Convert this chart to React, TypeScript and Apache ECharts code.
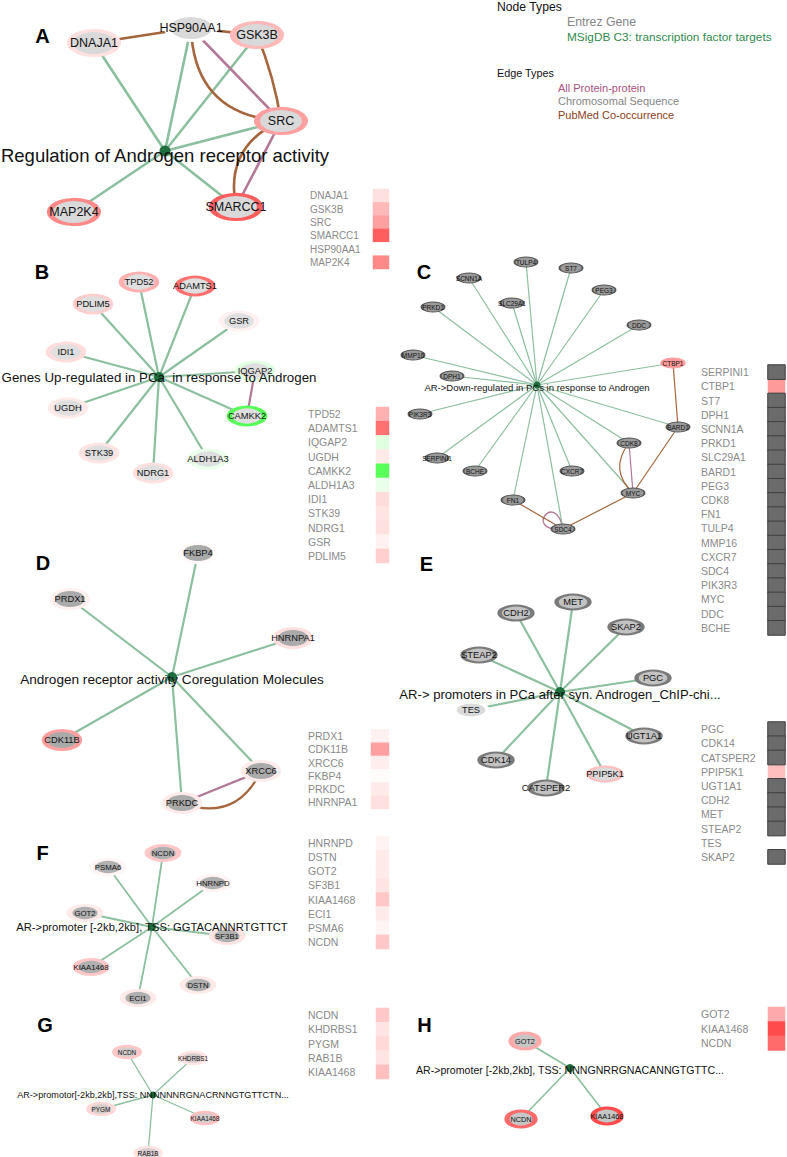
import React, { useEffect, useRef } from 'react';
import * as echarts from 'echarts';

const W = 787;
const H = 1157;
const FONT = '"Liberation Sans", Arial, Helvetica, sans-serif';

// ---------------- heatmap gene order and scores (red = up, green = down, null = no data) ----------------
const genesA = ['DNAJA1', 'GSK3B', 'SRC', 'SMARCC1', 'HSP90AA1', 'MAP2K4'];
const valuesA = [0.15, 0.34, 0.46, 0.78, 0, 0.57];

const genesB = ['TPD52', 'ADAMTS1', 'IQGAP2', 'UGDH', 'CAMKK2', 'ALDH1A3', 'IDI1', 'STK39', 'NDRG1', 'GSR', 'PDLIM5'];
const valuesB = [0.38, 0.69, -0.15, 0.1, -0.8, -0.1, 0.17, 0.13, 0.15, 0.07, 0.23];

const genesC = ['SERPINI1', 'CTBP1', 'ST7', 'DPH1', 'SCNN1A', 'PRKD1', 'SLC29A1', 'BARD1', 'PEG3', 'CDK8', 'FN1', 'TULP4', 'MMP16', 'CXCR7', 'SDC4', 'PIK3R3', 'MYC', 'DDC', 'BCHE'];
const valuesC = [null, 0.49, null, null, null, null, null, null, null, null, null, null, null, null, null, null, null, null, null];

const genesD = ['PRDX1', 'CDK11B', 'XRCC6', 'FKBP4', 'PRKDC', 'HNRNPA1'];
const valuesD = [0.07, 0.46, 0.09, 0.02, 0.1, 0.15];

const genesE = ['PGC', 'CDK14', 'CATSPER2', 'PPIP5K1', 'UGT1A1', 'CDH2', 'MET', 'STEAP2', 'TES', 'SKAP2'];
const valuesE = [null, null, null, 0.31, null, null, null, null, 0, null];

const genesF = ['HNRNPD', 'DSTN', 'GOT2', 'SF3B1', 'KIAA1468', 'ECI1', 'PSMA6', 'NCDN'];
const valuesF = [0.06, 0.1, 0.1, 0.13, 0.27, 0.1, 0.05, 0.27];

const genesG = ['NCDN', 'KHDRBS1', 'PYGM', 'RAB1B', 'KIAA1468'];
const valuesG = [0.27, 0.13, 0.19, 0.13, 0.31];

const genesH = ['GOT2', 'KIAA1468', 'NCDN'];
const valuesH = [0.41, 0.87, 0.72];

// ---------------- gene-set (center) terms ----------------
const termA = 'Regulation of Androgen receptor activity';
const termB = 'Genes Up-regulated in PCa  in response to Androgen';
const termC = 'AR->Down-regulated in PCs in response to Androgen';
const termD = 'Androgen receptor activity Coregulation Molecules';
const termE = 'AR-> promoters in PCa after syn. Androgen_ChIP-chi...';
const termF = 'AR->promoter [-2kb,2kb], TSS: GGTACANNRTGTTCT';
const termG = 'AR->promotor[-2kb,2kb],TSS: NNNNNNRGNACRNNGTGTTCTN...';
const termH = 'AR->promoter [-2kb,2kb], TSS: NNNGNRRGNACANNGTGTTC...';

// ---------------- gene-gene edges [source, target, type, curveness] ----------------
const edgesA = [
  ['DNAJA1', 'HSP90AA1', 'pub', 0],
  ['HSP90AA1', 'GSK3B', 'pub', 0],
  ['HSP90AA1', 'SRC', 'pub', -0.45],
  ['HSP90AA1', 'SRC', 'ppi', 0],
  ['GSK3B', 'SRC', 'pub', 0.06],
  ['SRC', 'SMARCC1', 'pub', -0.4],
  ['SRC', 'SMARCC1', 'ppi', 0],
];
const edgesB = [['IQGAP2', 'CAMKK2', 'ppi', 0]];
const edgesC = [
  ['CTBP1', 'BARD1', 'pub', 0],
  ['BARD1', 'MYC', 'pub', 0],
  ['CDK8', 'MYC', 'pub', -0.45],
  ['CDK8', 'MYC', 'ppi', 0],
  ['MYC', 'SDC4', 'pub', 0],
  ['FN1', 'SDC4', 'pub', 0],
];
const loopsC = ['SDC4'];
const edgesD = [
  ['XRCC6', 'PRKDC', 'ppi', 0],
  ['XRCC6', 'PRKDC', 'pub', 0.45],
];
const edgesE: any[] = [];
const edgesF: any[] = [];
const edgesG: any[] = [];
const edgesH: any[] = [];

// ---------------- network layouts (node positions, page pixels) ----------------
const layoutA: Record<string, number[]> = {
  [termA]: [165, 151], DNAJA1: [94, 43], HSP90AA1: [191, 28], GSK3B: [257, 35],
  SRC: [281, 121], SMARCC1: [236, 207], MAP2K4: [74, 212],
};
const layoutB: Record<string, number[]> = {
  [termB]: [159, 377], TPD52: [139, 282], ADAMTS1: [195, 286], PDLIM5: [93, 304], GSR: [239, 321],
  IDI1: [66, 352], IQGAP2: [255, 371], CAMKK2: [247, 416], UGDH: [68, 408], STK39: [99, 453],
  ALDH1A3: [208, 459], NDRG1: [153, 473],
};
const layoutC: Record<string, number[]> = {
  [termC]: [537, 385], SCNN1A: [469, 278], TULP4: [526, 262], ST7: [571, 268], PEG3: [604, 290],
  SLC29A1: [512, 303], PRKD1: [433, 307], DDC: [639, 325], MMP16: [413, 355], CTBP1: [673, 363],
  DPH1: [452, 376], PIK3R3: [420, 414], BARD1: [678, 427], CDK8: [629, 443], SERPINI1: [437, 458],
  BCHE: [475, 471], CXCR7: [572, 471], FN1: [513, 500], MYC: [633, 493], SDC4: [563, 529],
};
const layoutD: Record<string, number[]> = {
  [termD]: [172, 677], FKBP4: [198, 553], PRDX1: [70, 599], HNRNPA1: [293, 638],
  CDK11B: [62, 740], XRCC6: [261, 771], PRKDC: [182, 803],
};
const layoutE: Record<string, number[]> = {
  [termE]: [560, 692], MET: [573, 602], CDH2: [516, 613], SKAP2: [626, 627], STEAP2: [479, 655],
  PGC: [653, 678], TES: [471, 710], UGT1A1: [644, 736], CDK14: [496, 760], PPIP5K1: [605, 774],
  CATSPER2: [546, 788],
};
const layoutF: Record<string, number[]> = {
  [termF]: [152, 927], NCDN: [163, 853], PSMA6: [108, 867], HNRNPD: [213, 883], GOT2: [85, 913],
  SF3B1: [227, 936], KIAA1468: [91, 967], DSTN: [198, 985], ECI1: [138, 998],
};
const layoutG: Record<string, number[]> = {
  [termG]: [153, 1095], NCDN: [127, 1052], KHDRBS1: [193, 1058], PYGM: [101, 1109],
  KIAA1468: [205, 1118], RAB1B: [148, 1153],
};
const layoutH: Record<string, number[]> = {
  [termH]: [570, 1068], GOT2: [525, 1041], NCDN: [521, 1119], KIAA1468: [607, 1116],
};

// ---------------- colours ----------------
const GREEN_EDGE = '#8bbf9e';
const BROWN_EDGE = '#a5653d';
const PURPLE_EDGE = '#b27896';
const CENTER_GREEN = '#1f6e3d';
const LABEL_GRAY = '#8a8a8a';

function heatColor(v: number) {
  const t = Math.max(-1, Math.min(1, v));
  const end = t >= 0 ? [255, 48, 48] : [48, 255, 48];
  const a = Math.abs(t);
  return 'rgb(' + [0, 1, 2].map((i) => Math.round(255 + (end[i] - 255) * a)).join(',') + ')';
}

type Panel = {
  term: string; genes: string[]; values: (number | null)[]; layout: Record<string, number[]>;
  extra: any[]; loops: string[]; letter: string; letterPos: number[];
  st: any; hm: { left: number; top: number; width: number; height: number; labelX: number; font: number };
};

const panels: Panel[] = [
  { term: termA, genes: genesA, values: valuesA, layout: layoutA, extra: edgesA, loops: [], letter: 'A', letterPos: [42.5, 36],
    st: { size: [48, 25], bw: 4.5, core: '#d9d9d9', label: 12.5, termFont: 18.5, off: [0, 4], cs: 11, ew: 2.6 },
    hm: { left: 373, top: 189, width: 16, height: 80, labelX: 310, font: 10 } },
  { term: termB, genes: genesB, values: valuesB, layout: layoutB, extra: edgesB, loops: [], letter: 'B', letterPos: [42, 271.5],
    st: { size: [35, 18], bw: 4, core: '#dfdfdf', label: 9.3, termFont: 13.3, off: [0, 0], cs: 10, ew: 2.2 },
    hm: { left: 376, top: 407, width: 13, height: 156, labelX: 308, font: 10.5 } },
  { term: termC, genes: genesC, values: valuesC, layout: layoutC, extra: edgesC, loops: loopsC, letter: 'C', letterPos: [424, 272],
    st: { size: [23, 10], bw: 1.5, core: null, naFill: '#9a9a9a', naBorder: '#555555', naBw: 1.3, label: 6.5, termFont: 9.5, off: [0, 2], cs: 7, ew: 1.2 },
    hm: { left: 768, top: 365, width: 17, height: 270, labelX: 701, font: 10.5 } },
  { term: termD, genes: genesD, values: valuesD, layout: layoutD, extra: edgesD, loops: [], letter: 'D', letterPos: [43, 563],
    st: { size: [35, 19], bw: 4, core: '#aaaaaa', label: 9.3, termFont: 13.6, off: [0, 2], cs: 10, ew: 2.2 },
    hm: { left: 371, top: 729.5, width: 18, height: 79.5, labelX: 308, font: 10.5 } },
  { term: termE, genes: genesE, values: valuesE, layout: layoutE, extra: edgesE, loops: [], letter: 'E', letterPos: [426.5, 563.5],
    st: { size: [33, 15], bw: 3, core: '#dadada', naFill: '#c2c2c2', naBorder: '#7a7a7a', naBw: 3, label: 9.3, termFont: 13.1, off: [0, 2], cs: 10, ew: 2.2 },
    hm: { left: 768, top: 722, width: 17, height: 142, labelX: 701, font: 10.5 } },
  { term: termF, genes: genesF, values: valuesF, layout: layoutF, extra: edgesF, loops: [], letter: 'F', letterPos: [42.5, 852.5],
    st: { size: [31, 15], bw: 4, core: '#b0b0b0', label: 7.8, termFont: 11.2, off: [0, 0], cs: 8, ew: 1.8 },
    hm: { left: 376, top: 836, width: 13, height: 113, labelX: 308, font: 10.5 } },
  { term: termG, genes: genesG, values: valuesG, layout: layoutG, extra: edgesG, loops: [], letter: 'G', letterPos: [45, 1025],
    st: { size: [25, 12], bw: 3.5, core: '#d5cccc', label: 6.4, termFont: 9.1, off: [0, 0], cs: 7, ew: 1.3 },
    hm: { left: 376, top: 1008, width: 13, height: 71, labelX: 308, font: 10.5 } },
  { term: termH, genes: genesH, values: valuesH, layout: layoutH, extra: edgesH, loops: [], letter: 'H', letterPos: [424.5, 1025],
    st: { size: [28, 16], bw: 4, core: '#c6c6c6', label: 7.3, termFont: 10.6, off: [0, 2], cs: 8, ew: 1.6 },
    hm: { left: 768, top: 1007, width: 17, height: 43.5, labelX: 701, font: 10.5 } },
];

function graphSeries(p: Panel) {
  const s = p.st;
  const nodes: any[] = [
    {
      name: p.term, value: p.layout[p.term], symbol: 'circle', symbolSize: s.cs,
      itemStyle: { color: CENTER_GREEN, borderWidth: 0 },
      label: { show: true, position: 'inside', offset: s.off, fontSize: s.termFont, color: '#111', fontFamily: FONT },
    },
  ];
  p.genes.forEach((g, i) => {
    const v = p.values[i];
    const na = v == null;
    nodes.push({
      name: g, value: p.layout[g], symbol: 'circle', symbolSize: s.size,
      itemStyle: na
        ? { color: s.naFill, borderColor: s.naBorder, borderWidth: s.naBw }
        : { color: s.core ?? heatColor(v as number), borderColor: heatColor(v as number), borderWidth: s.bw },
      label: { show: true, position: 'inside', fontSize: s.label, color: '#111', fontFamily: FONT },
    });
  });
  const links: any[] = p.genes.map((g) => ({
    source: p.term, target: g, lineStyle: { color: GREEN_EDGE, width: s.ew, curveness: 0, opacity: 1 },
  }));
  p.extra.forEach(([a, b, t, c]) => {
    links.push({ source: a, target: b, lineStyle: { color: t === 'ppi' ? PURPLE_EDGE : BROWN_EDGE, width: s.ew, curveness: c, opacity: 1 } });
  });
  return {
    type: 'graph', layout: 'none', coordinateSystem: 'cartesian2d', xAxisIndex: 0, yAxisIndex: 0,
    silent: true, roam: false, edgeSymbol: ['none', 'none'], data: nodes, links, z: 3,
    emphasis: { disabled: true },
  };
}

function buildOption() {
  const grid: any[] = [{ left: 0, top: 0, width: W, height: H }];
  const xAxis: any[] = [{ type: 'value', gridIndex: 0, min: 0, max: W, show: false }];
  const yAxis: any[] = [{ type: 'value', gridIndex: 0, min: 0, max: H, inverse: true, show: false }];
  const series: any[] = [];
  const heatIdx: number[] = [];
  const naIdx: number[] = [];
  const graphic: any[] = [];

  panels.forEach((p, k) => {
    const gi = k + 1;
    const hm = p.hm;
    grid.push({ left: hm.left, top: hm.top, width: hm.width, height: hm.height });
    xAxis.push({ type: 'category', gridIndex: gi, data: [''], show: false });
    yAxis.push({
      type: 'category', gridIndex: gi, data: p.genes, inverse: true,
      axisLine: { show: false }, axisTick: { show: false }, splitLine: { show: false },
      axisLabel: { color: LABEL_GRAY, fontSize: hm.font, fontFamily: FONT, align: 'left', margin: hm.left - hm.labelX, interval: 0 },
    });
    series.push(graphSeries(p));
    heatIdx.push(series.length);
    series.push({
      type: 'heatmap', xAxisIndex: gi, yAxisIndex: gi, silent: true,
      data: p.genes.map((g, i) => [0, i, p.values[i] == null ? '-' : p.values[i]]),
    });
    if (p.values.some((v) => v == null)) {
      naIdx.push(series.length);
      series.push({
        type: 'heatmap', xAxisIndex: gi, yAxisIndex: gi, silent: true,
        itemStyle: { borderColor: '#3f3f3f', borderWidth: 1 },
        data: p.genes.map((g, i) => [0, i, p.values[i] == null ? 0 : '-']),
      });
    }
    if (p.loops.length) {
      series.push({
        type: 'custom', coordinateSystem: 'cartesian2d', xAxisIndex: 0, yAxisIndex: 0, silent: true, z: 2,
        data: p.loops.map((g) => p.layout[g]),
        renderItem: (params: any, api: any) => {
          const c = api.coord([api.value(0), api.value(1)]);
          return {
            type: 'bezierCurve',
            shape: { x1: c[0], y1: c[1], x2: c[0], y2: c[1], cpx1: c[0] - 40, cpy1: c[1] + 4, cpx2: c[0] - 8, cpy2: c[1] - 40 },
            style: { stroke: PURPLE_EDGE, fill: 'none', lineWidth: p.st.ew + 0.2 },
          };
        },
      });
    }
    graphic.push({
      type: 'text', x: p.letterPos[0], y: p.letterPos[1], silent: true,
      style: { text: p.letter, fontSize: 20, fontWeight: 'bold', fontFamily: FONT, fill: '#000', align: 'center', verticalAlign: 'middle' },
    });
  });

  const legend = [
    { t: 'Node Types', x: 497, y: 7, c: '#111', f: 12.2 },
    { t: 'Entrez Gene', x: 567, y: 22, c: '#858585', f: 12.3 },
    { t: 'MSigDB C3: transcription factor targets', x: 567, y: 37, c: '#2f8a4c', f: 11.8 },
    { t: 'Edge Types', x: 497, y: 73, c: '#111', f: 10.8 },
    { t: 'All Protein-protein', x: 558, y: 88, c: '#a8527e', f: 11 },
    { t: 'Chromosomal Sequence', x: 558, y: 101, c: '#858585', f: 11 },
    { t: 'PubMed Co-occurrence', x: 558, y: 115, c: '#8b3d1d', f: 11 },
  ];
  legend.forEach((l) => {
    graphic.push({
      type: 'text', x: l.x, y: l.y, silent: true,
      style: { text: l.t, fontSize: l.f, fontFamily: FONT, fill: l.c, align: 'left', verticalAlign: 'middle' },
    });
  });

  return {
    animation: false,
    backgroundColor: '#ffffff',
    grid, xAxis, yAxis, series, graphic,
    visualMap: [
      { type: 'continuous', show: false, min: -1, max: 1, dimension: 2, seriesIndex: heatIdx,
        inRange: { color: ['#30ff30', '#ffffff', '#ff3030'] } },
      { type: 'continuous', show: false, min: 0, max: 1, dimension: 2, seriesIndex: naIdx,
        inRange: { color: ['#6b6b6b', '#6b6b6b'] } },
    ],
  };
}

export default function App() {
  const ref = useRef<HTMLDivElement>(null);
  useEffect(() => {
    document.body.style.margin = '0';
    if (!ref.current) return;
    const chart = echarts.init(ref.current, null, { renderer: 'svg' });
    chart.setOption(buildOption() as any);
    return () => chart.dispose();
  }, []);
  return <div ref={ref} style={{ width: W, height: H }} />;
}
